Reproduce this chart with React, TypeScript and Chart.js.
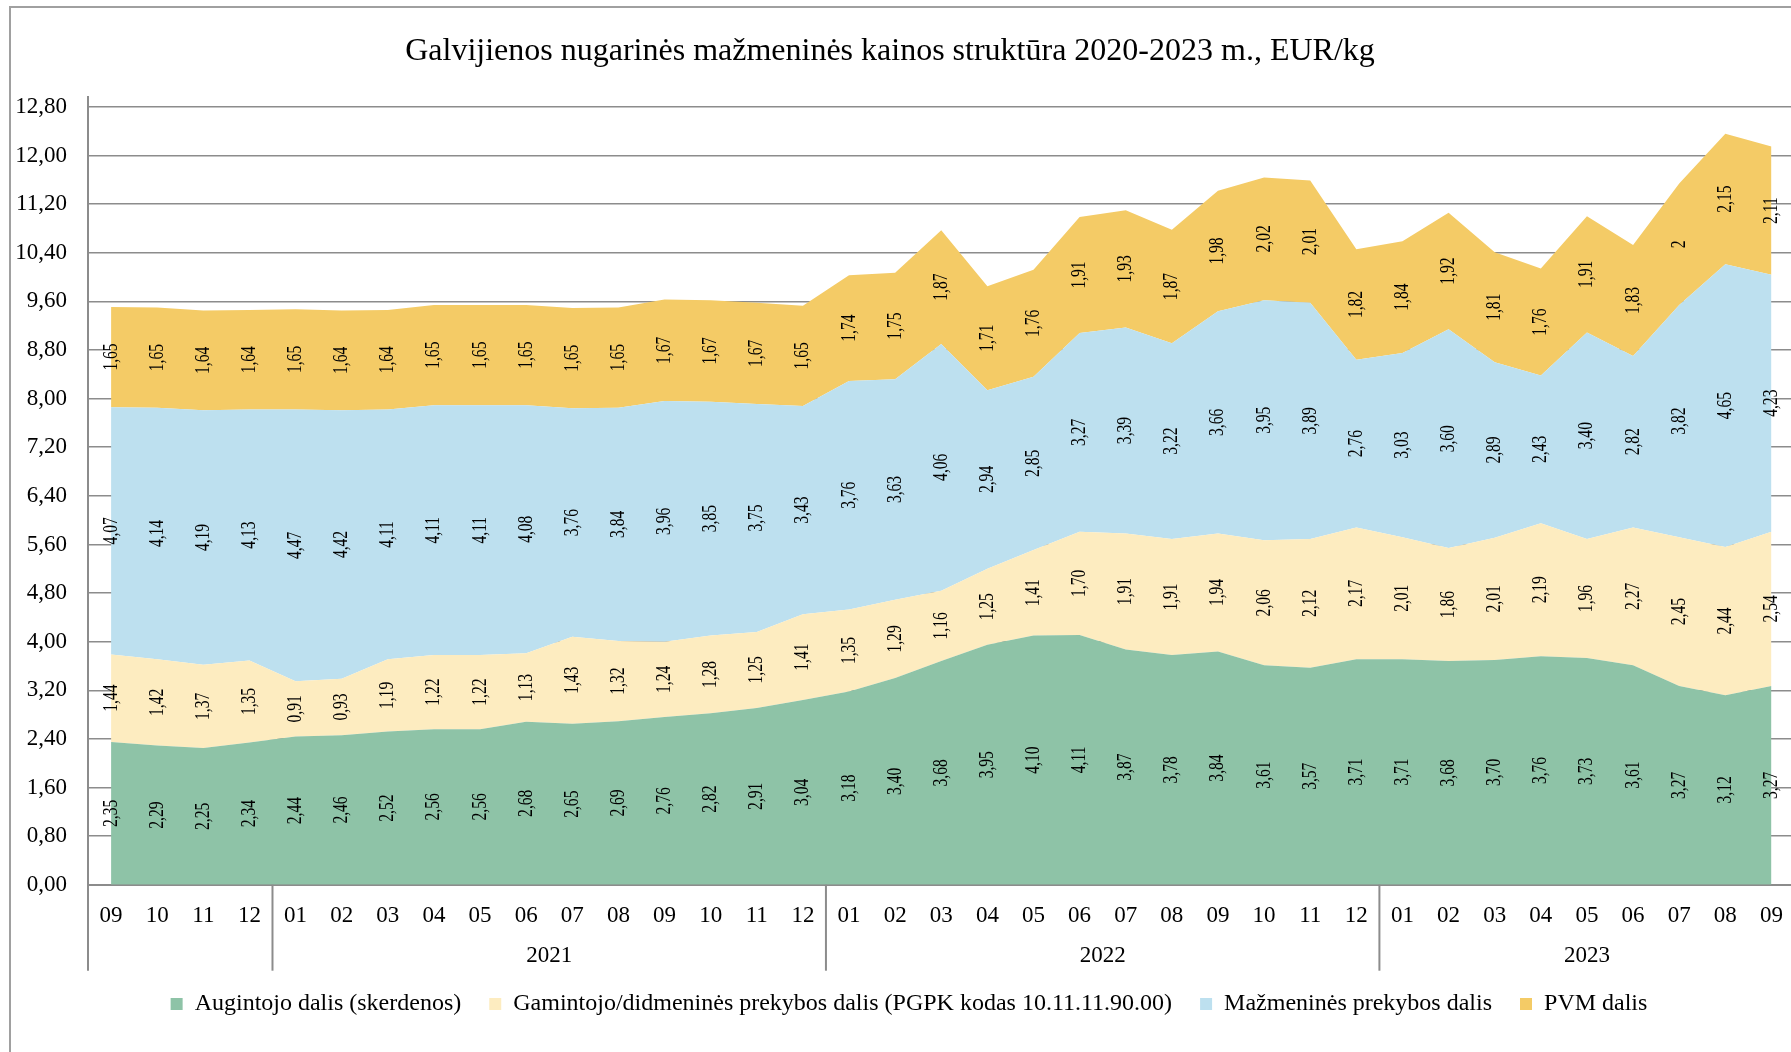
import React, { useEffect, useRef } from "react";
import { Chart, registerables } from "chart.js";

Chart.register(...registerables);

const TITLE = "Galvijienos nugarinės mažmeninės kainos struktūra 2020-2023 m., EUR/kg";

const months = [
  "09", "10", "11", "12",
  "01", "02", "03", "04", "05", "06", "07", "08", "09", "10", "11", "12",
  "01", "02", "03", "04", "05", "06", "07", "08", "09", "10", "11", "12",
  "01", "02", "03", "04", "05", "06", "07", "08", "09",
];

const years = ["2021", "2022", "2023"];
const yearStartIdx = [4, 16, 28];
const yearEndIdx = [15, 27, 36];

const seriesNames = [
  "Augintojo dalis (skerdenos)",
  "Gamintojo/didmeninės prekybos dalis (PGPK kodas 10.11.11.90.00)",
  "Mažmeninės prekybos dalis",
  "PVM dalis",
];

const augintojo = [
  2.35, 2.29, 2.25, 2.34,
  2.44, 2.46, 2.52, 2.56, 2.56, 2.68, 2.65, 2.69, 2.76, 2.82, 2.91, 3.04,
  3.18, 3.40, 3.68, 3.95, 4.10, 4.11, 3.87, 3.78, 3.84, 3.61, 3.57, 3.71,
  3.71, 3.68, 3.70, 3.76, 3.73, 3.61, 3.27, 3.12, 3.27,
];

const gamintojo = [
  1.44, 1.42, 1.37, 1.35,
  0.91, 0.93, 1.19, 1.22, 1.22, 1.13, 1.43, 1.32, 1.24, 1.28, 1.25, 1.41,
  1.35, 1.29, 1.16, 1.25, 1.41, 1.70, 1.91, 1.91, 1.94, 2.06, 2.12, 2.17,
  2.01, 1.86, 2.01, 2.19, 1.96, 2.27, 2.45, 2.44, 2.54,
];

const mazmenines = [
  4.07, 4.14, 4.19, 4.13,
  4.47, 4.42, 4.11, 4.11, 4.11, 4.08, 3.76, 3.84, 3.96, 3.85, 3.75, 3.43,
  3.76, 3.63, 4.06, 2.94, 2.85, 3.27, 3.39, 3.22, 3.66, 3.95, 3.89, 2.76,
  3.03, 3.60, 2.89, 2.43, 3.40, 2.82, 3.82, 4.65, 4.23,
];

const pvm = [
  1.65, 1.65, 1.64, 1.64,
  1.65, 1.64, 1.64, 1.65, 1.65, 1.65, 1.65, 1.65, 1.67, 1.67, 1.67, 1.65,
  1.74, 1.75, 1.87, 1.71, 1.76, 1.91, 1.93, 1.87, 1.98, 2.02, 2.01, 1.82,
  1.84, 1.92, 1.81, 1.76, 1.91, 1.83, 2, 2.15, 2.11,
];

const colors = ["#8EC3A7", "#FDECC0", "#BDE0EF", "#F4CB66"];

const Y_MIN = 0;
const Y_MAX = 12.8;
const Y_STEP = 0.8;

const FONT = "'Liberation Serif', 'Times New Roman', serif";
const AXIS_COLOR = "#8c8c8c";

function fmtValue(v: number): string {
  const s = Number.isInteger(v) ? String(v) : v.toFixed(2);
  return s.replace(".", ",");
}

const extrasPlugin = {
  id: "extras",
  afterLayout(chart: any) {
    // small horizontal nudges of title and legend to match the original layout
    if (chart.titleBlock) {
      chart.titleBlock.left -= 8;
      chart.titleBlock.right -= 8;
    }
    if (chart.legend) {
      chart.legend.left += 11;
      chart.legend.right += 11;
    }
  },
  afterDatasetsDraw(chart: any) {
    const ctx = chart.ctx;
    const xs = chart.scales.x;
    const ys = chart.scales.y;
    const n = months.length;
    const cum = new Array(n).fill(0);
    ctx.save();
    ctx.fillStyle = "#000";
    ctx.font = `21px ${FONT}`;
    ctx.textAlign = "center";
    ctx.textBaseline = "middle";
    chart.data.datasets.forEach((ds: any) => {
      ds.data.forEach((v: number, i: number) => {
        const y0 = ys.getPixelForValue(cum[i]);
        const y1 = ys.getPixelForValue(cum[i] + v);
        cum[i] += v;
        const x = xs.getPixelForValue(i);
        ctx.save();
        ctx.translate(x, (y0 + y1) / 2);
        ctx.rotate(-Math.PI / 2);
        ctx.scale(0.74, 1);
        ctx.fillText(fmtValue(v), 0, 0);
        ctx.restore();
      });
    });
    ctx.restore();
  },
  afterDraw(chart: any) {
    const ctx = chart.ctx;
    const xs = chart.scales.x;
    const area = chart.chartArea;
    const step = xs.getPixelForValue(1) - xs.getPixelForValue(0);
    const sepBottom = area.bottom + 86;
    ctx.save();
    ctx.strokeStyle = AXIS_COLOR;
    ctx.lineWidth = 2;
    ctx.beginPath();
    ctx.moveTo(area.left, area.top - 11);
    ctx.lineTo(area.left, sepBottom);
    ctx.stroke();
    yearStartIdx.forEach((s) => {
      const x = xs.getPixelForValue(s) - step / 2;
      ctx.beginPath();
      ctx.moveTo(x, area.bottom);
      ctx.lineTo(x, sepBottom);
      ctx.stroke();
    });
    ctx.fillStyle = "#000";
    ctx.font = `23px ${FONT}`;
    ctx.textAlign = "center";
    ctx.textBaseline = "middle";
    years.forEach((y, k) => {
      const x = (xs.getPixelForValue(yearStartIdx[k]) + xs.getPixelForValue(yearEndIdx[k])) / 2;
      ctx.fillText(y, x, area.bottom + 71);
    });
    ctx.restore();
  },
};

export default function App() {
  const ref = useRef<HTMLCanvasElement | null>(null);

  useEffect(() => {
    if (!ref.current) return;
    const data = [augintojo, gamintojo, mazmenines, pvm];
    const chart = new Chart(ref.current, {
      type: "line",
      data: {
        labels: months,
        datasets: data.map((d, i) => ({
          label: seriesNames[i],
          data: d,
          backgroundColor: colors[i],
          borderColor: colors[i],
          borderWidth: 0,
          pointRadius: 0,
          pointHoverRadius: 0,
          tension: 0,
          fill: i === 0 ? "origin" : "-1",
        })),
      },
      options: {
        responsive: false,
        animation: false,
        devicePixelRatio: 1,
        layout: { padding: { left: 0, right: 4, top: 0, bottom: 26 } },
        plugins: {
          title: {
            display: true,
            text: TITLE,
            color: "#000",
            font: { family: FONT, size: 32, weight: "normal" },
            padding: { top: 32.8, bottom: 35.8 },
          },
          legend: {
            display: true,
            position: "bottom",
            labels: {
              color: "#000",
              font: { family: FONT, size: 24 },
              boxWidth: 12,
              boxHeight: 12,
              padding: 28,
            },
          },
          tooltip: { enabled: false },
        },
        scales: {
          x: {
            type: "category",
            offset: true,
            grid: { display: false, drawTicks: false },
            border: { display: true, color: AXIS_COLOR, width: 2 },
            ticks: {
              color: "#000",
              font: { family: FONT, size: 23 },
              padding: 17,
              maxRotation: 0,
              autoSkip: false,
            },
            afterFit: (s: any) => {
              s.height = 79.3;
            },
          },
          y: {
            stacked: true,
            min: Y_MIN,
            max: Y_MAX,
            grid: { color: AXIS_COLOR, lineWidth: 1.5, drawTicks: false },
            border: { display: false },
            ticks: {
              stepSize: Y_STEP,
              color: "#000",
              font: { family: FONT, size: 23 },
              padding: 21,
              callback: (v: any) => Number(v).toFixed(2).replace(".", ","),
            },
            afterFit: (s: any) => {
              s.width = 88;
            },
          },
        },
      },
      plugins: [extrasPlugin],
    });
    return () => chart.destroy();
  }, []);

  return (
    <div
      style={{
        position: "fixed",
        left: 0,
        top: 0,
        width: 1791,
        height: 1052,
        overflow: "hidden",
        background: "#fff",
      }}
    >
      <div
        style={{
          position: "absolute",
          left: 9,
          top: 6,
          width: 2000,
          height: 2000,
          border: "2px solid #a0a0a0",
        }}
      />
      <canvas
        ref={ref}
        width={1800}
        height={1052}
        style={{ position: "absolute", left: 0, top: 0, width: 1800, height: 1052 }}
      />
    </div>
  );
}
